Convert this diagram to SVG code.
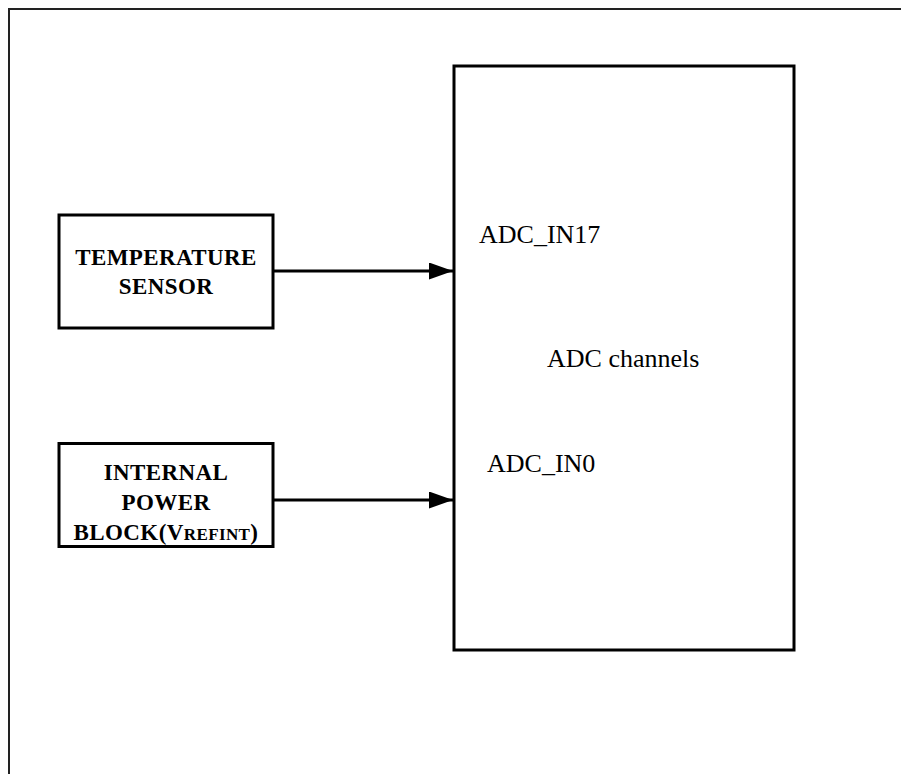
<svg xmlns="http://www.w3.org/2000/svg" width="901" height="774" viewBox="0 0 901 774">
<style>
.box{fill:#fff;stroke:#000;stroke-width:3}
.lbl{font-family:"Liberation Serif","Times New Roman",serif;font-weight:bold;font-size:23px;letter-spacing:0.4px;fill:#000;text-anchor:middle}
.txt{font-family:"Liberation Serif","Times New Roman",serif;font-size:26px;fill:#000}
.wire{stroke:#000;stroke-width:3;fill:none}
</style>
<defs>
<marker id="arr" viewBox="0 0 24 17" refX="24" refY="8.5" markerWidth="24" markerHeight="17" markerUnits="userSpaceOnUse" orient="auto">
<path d="M0,0 L24,8.5 L0,17 Z" fill="#000"/>
</marker>
</defs>
<rect width="901" height="774" fill="#fff"/>
<path id="frame" d="M9,774 V9 H901" fill="none" stroke="#222" stroke-width="2"/>
<g id="adc">
<rect class="box" x="454" y="66" width="340" height="584"/>
<text class="txt" x="479" y="243">ADC_IN17</text>
<text class="txt" x="547" y="367">ADC channels</text>
<text class="txt" x="487" y="472">ADC_IN0</text>
</g>
<g id="temp">
<rect class="box" x="59" y="215" width="214" height="113"/>
<text class="lbl" x="166" y="265">TEMPERATURE</text>
<text class="lbl" x="166" y="294">SENSOR</text>
</g>
<g id="power">
<rect class="box" x="59" y="443.5" width="214" height="103"/>
<text class="lbl" x="166" y="480">INTERNAL</text>
<text class="lbl" x="166" y="510">POWER</text>
<text class="lbl" x="166" y="540">BLOCK(V<tspan font-size="17">REFINT</tspan>)</text>
</g>
<g id="connectors">
<line class="wire" x1="273" y1="271" x2="453" y2="271" marker-end="url(#arr)"/>
<line class="wire" x1="273" y1="500" x2="453" y2="500" marker-end="url(#arr)"/>
</g>
</svg>
